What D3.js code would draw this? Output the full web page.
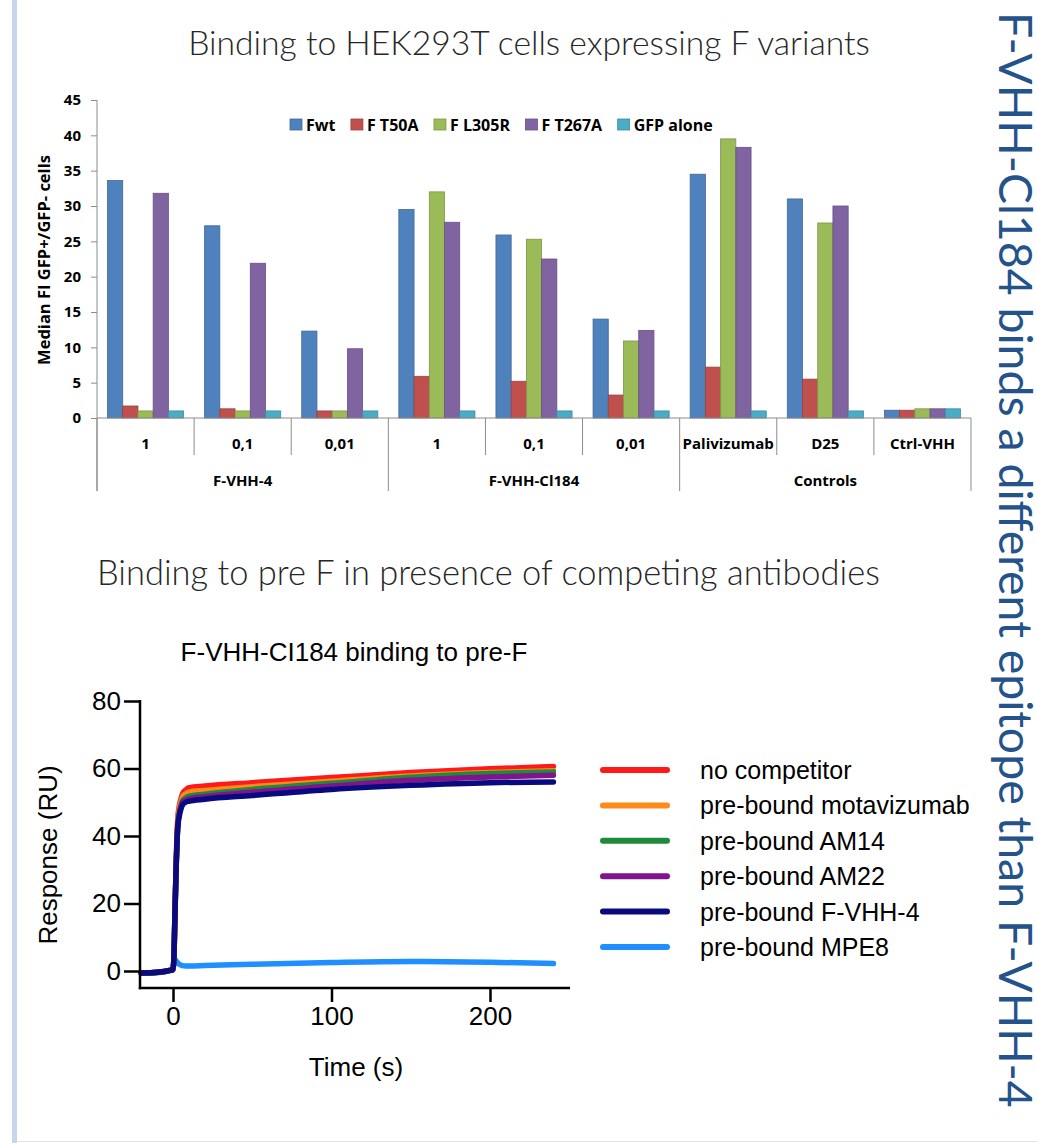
<!DOCTYPE html>
<html>
<head>
<meta charset="utf-8">
<script src="https://cdn.jsdelivr.net/npm/d3@7"></script>
<style>
  body { margin: 0; background: #fff; }
  svg { display: block; }
</style>
</head>
<body>
<div id="slide"></div>
<script>

// ---------- data: bar chart ----------
var categories = ["1", "0,1", "0,01", "1", "0,1", "0,01", "Palivizumab", "D25", "Ctrl-VHH"];
var groups = ["F-VHH-4", "F-VHH-Cl184", "Controls"];
var groupOf = [0, 0, 0, 1, 1, 1, 2, 2, 2];
var variants = ["Fwt", "F T50A", "F L305R", "F T267A", "GFP alone"];
var fwt   = [33.6, 27.2, 12.3, 29.5, 25.9, 14.0, 34.5, 31.0, 1.1];
var t50a  = [1.7, 1.3, 1.0, 5.9, 5.2, 3.25, 7.2, 5.5, 1.1];
var l305r = [1.0, 1.0, 1.0, 32.0, 25.3, 10.9, 39.5, 27.6, 1.3];
var t267a = [31.8, 21.9, 9.8, 27.7, 22.5, 12.4, 38.3, 30.0, 1.3];
var gfp   = [1.0, 1.0, 1.0, 1.0, 1.0, 1.0, 1.0, 1.0, 1.3];
var barTicks = [0, 5, 10, 15, 20, 25, 30, 35, 40, 45];

// ---------- data: sensorgram ----------
var time      = [-20, -10, -2, 0, 0.5, 1, 1.5, 2, 2.5, 3, 4, 5, 6, 8, 10, 20, 50, 100, 150, 200, 240];
var noComp    = [-0.6, -0.4, 0.2, 0.5, 3, 12, 22, 32, 40, 45, 49, 51, 52.5, 53.6, 54.3, 54.8, 55.8, 57.3, 58.8, 59.9, 60.6];
var motaviz   = [-0.6, -0.4, 0.2, 0.5, 3, 12, 22, 31, 39, 44, 48, 50, 51.5, 52.5, 53.0, 53.5, 54.6, 56.2, 57.8, 58.8, 59.3];
var am14      = [-0.7, -0.5, 0.1, 0.4, 3, 12, 22, 31, 38, 43, 47, 49, 50.5, 51.3, 51.8, 52.4, 53.8, 55.6, 57.4, 58.5, 59.0];
var am22      = [-0.6, -0.4, 0.2, 0.5, 3, 12, 22, 31, 38, 43, 46.5, 48.5, 50, 50.6, 51.0, 51.6, 53.0, 54.8, 56.5, 57.5, 58.0];
var fvhh4     = [-0.6, -0.4, 0.2, 0.5, 3, 12, 22, 31, 38, 42.5, 46, 48, 49.2, 50.0, 50.3, 50.9, 52.0, 53.8, 55.0, 55.8, 56.0];
var mpe8      = [-0.6, -0.4, 0.2, 0.5, 2.5, 3.5, 3.2, 3, 2.7, 2.4, 2, 1.8, 1.6, 1.5, 1.5, 1.6, 2.0, 2.5, 2.8, 2.6, 2.2];
var curveNames = ["no competitor", "pre-bound motavizumab", "pre-bound AM14", "pre-bound AM22", "pre-bound F-VHH-4", "pre-bound MPE8"];
var respTicks = [0, 20, 40, 60, 80];
var timeTicks = [0, 100, 200];

var W = 1037, H = 1143;
var svg = d3.select("#slide").append("svg")
    .attr("width", W)
    .attr("height", H);

svg.append("rect").attr("width", W).attr("height", H).attr("fill", "#fff");

// slide decoration: left bar and bottom edge
svg.append("rect").attr("x", 12).attr("y", 0).attr("width", 5).attr("height", H).attr("fill", "#c6d6ec");
svg.append("line").attr("x1", 17).attr("x2", W).attr("y1", H - 1.5).attr("y2", H - 1.5)
    .attr("stroke", "#e4e4e4").attr("stroke-width", 1);

// scale a text's font size so it spans the wanted width
function fitWidth(sel, target) {
  var w = sel.node().getComputedTextLength();
  var fs = parseFloat(sel.attr("font-size"));
  sel.attr("font-size", fs * target / w);
}

// ---------- headings ----------
var t1 = svg.append("text")
    .attr("x", 529).attr("y", 55)
    .attr("text-anchor", "middle")
    .attr("font-family", "Lato, sans-serif").attr("font-weight", 300)
    .attr("font-size", 30).attr("fill", "#262626")
    .text("Binding to HEK293T cells expressing F variants");
fitWidth(t1, 682);

var t2 = svg.append("text")
    .attr("x", 97).attr("y", 585)
    .attr("font-family", "Lato, sans-serif").attr("font-weight", 300)
    .attr("font-size", 30).attr("fill", "#262626")
    .text("Binding to pre F in presence of competing antibodies");
fitWidth(t2, 783);

var side = svg.append("text")
    .attr("transform", "translate(999,12) rotate(90)")
    .attr("font-family", "Lato, sans-serif")
    .attr("font-size", 50).attr("fill", "#24528a")
    .text("F-VHH-Cl184 binds a different epitope than F-VHH-4");
fitWidth(side, 1096);

// ---------- bar chart ----------
var barSeries = [fwt, t50a, l305r, t267a, gfp];
var barColors = ["#4F81BD", "#C0504D", "#9BBB59", "#8064A2", "#4BACC6"];
var gray = "#8c8c8c";
var font1 = "'Open Sans', sans-serif";

var x0 = d3.scaleBand().domain(d3.range(categories.length)).range([97, 971]);
var x1 = d3.scaleBand().domain(d3.range(variants.length)).range([0, x0.bandwidth()]).paddingOuter(0.69);
var yb = d3.scaleLinear().domain([0, 45]).range([418, 100]);

var bars = svg.append("g");
categories.forEach(function (c, i) {
  barSeries.forEach(function (s, j) {
    bars.append("rect")
      .attr("x", x0(i) + x1(j))
      .attr("y", yb(s[i]))
      .attr("width", x1.bandwidth())
      .attr("height", yb(0) - yb(s[i]))
      .attr("fill", barColors[j])
      .attr("stroke", d3.color(barColors[j]).darker(0.6))
      .attr("stroke-width", 0.8);
  });
});

var yAxis = svg.append("g")
    .attr("transform", "translate(97,0)")
    .call(d3.axisLeft(yb).tickValues(barTicks).tickSize(6).tickSizeOuter(0).tickPadding(10));
yAxis.select(".domain").remove();
yAxis.selectAll(".tick line").attr("stroke", gray);
yAxis.selectAll(".tick text")
    .attr("font-family", font1).attr("font-weight", "bold")
    .attr("font-size", 15).attr("fill", "#000");

// axis lines and category separators
svg.append("line").attr("x1", 97).attr("x2", 97).attr("y1", 100).attr("y2", 491).attr("stroke", gray);
svg.append("line").attr("x1", 97).attr("x2", 971).attr("y1", 418).attr("y2", 418).attr("stroke", gray);
d3.range(categories.length + 1).forEach(function (i) {
  var xp = i < categories.length ? x0(i) : x0.range()[1];
  var bottom = (i % 3 === 0) ? 491 : 455;
  svg.append("line").attr("x1", xp).attr("x2", xp).attr("y1", 418).attr("y2", bottom).attr("stroke", gray);
});

svg.append("g").selectAll("text")
  .data(categories)
  .enter().append("text")
    .attr("x", function (d, i) { return x0(i) + x0.bandwidth() / 2; })
    .attr("y", 449)
    .attr("text-anchor", "middle")
    .attr("font-family", font1).attr("font-weight", "bold").attr("font-size", 15)
    .text(function (d) { return d; });

svg.append("g").selectAll("text")
  .data(groups)
  .enter().append("text")
    .attr("x", function (d, g) {
      var idx = d3.range(categories.length).filter(function (i) { return groupOf[i] === g; });
      return (x0(idx[0]) + x0(idx[idx.length - 1]) + x0.bandwidth()) / 2;
    })
    .attr("y", 486)
    .attr("text-anchor", "middle")
    .attr("font-family", font1).attr("font-weight", "bold").attr("font-size", 15)
    .text(function (d) { return d; });

var ytitle = svg.append("text")
    .attr("transform", "translate(50,260) rotate(-90)")
    .attr("text-anchor", "middle")
    .attr("font-family", font1).attr("font-weight", "bold").attr("font-size", 15)
    .text("Median FI GFP+/GFP- cells");
fitWidth(ytitle, 210);

// legend
var lx = 290;
variants.forEach(function (v, j) {
  svg.append("rect")
    .attr("x", lx).attr("y", 119).attr("width", 12).attr("height", 11)
    .attr("fill", barColors[j]).attr("stroke", d3.color(barColors[j]).darker(0.6)).attr("stroke-width", 0.8);
  var t = svg.append("text")
    .attr("x", lx + 16).attr("y", 130.5)
    .attr("font-family", font1).attr("font-weight", "bold").attr("font-size", 16)
    .text(v);
  lx += 16 + t.node().getComputedTextLength() + 15.5;
});

// ---------- sensorgram ----------
var xs = d3.scaleLinear().domain([0, 100]).range([173, 331.5]);
var ys = d3.scaleLinear().domain([0, 80]).range([971, 701]);
var curveData = [noComp, motaviz, am14, am22, fvhh4, mpe8];
var curveColors = ["#ff1a1a", "#ff8a1c", "#1f8a3c", "#80148c", "#0a0a80", "#1f8fff"];
var font2 = "'Liberation Sans', Arial, sans-serif";

svg.append("text")
    .attr("x", 354).attr("y", 661)
    .attr("text-anchor", "middle")
    .attr("font-family", font2).attr("font-size", 26)
    .text("F-VHH-CI184 binding to pre-F");

var line = d3.line()
    .x(function (d) { return xs(d[0]); })
    .y(function (d) { return ys(d[1]); })
    .curve(d3.curveMonotoneX);

// draw MPE8 first so the others lie on top at the baseline
var order = [5, 0, 1, 2, 3, 4];
order.forEach(function (k) {
  svg.append("path")
    .datum(time.map(function (t, i) { return [t, curveData[k][i]]; }))
    .attr("d", line)
    .attr("fill", "none")
    .attr("stroke", curveColors[k])
    .attr("stroke-width", 5.5)
    .attr("stroke-linejoin", "round")
    .attr("stroke-linecap", "round");
});

var yAx = svg.append("g")
    .attr("transform", "translate(140,0)")
    .call(d3.axisLeft(ys).tickValues(respTicks).tickSize(16).tickSizeOuter(0).tickPadding(3));
yAx.select(".domain").remove();
svg.append("line").attr("x1", 140).attr("x2", 140).attr("y1", 700).attr("y2", 989.2)
    .attr("stroke", "#000").attr("stroke-width", 2.5);

var xAx = svg.append("g")
    .attr("transform", "translate(0,988)")
    .call(d3.axisBottom(xs).tickValues(timeTicks).tickSize(14).tickSizeOuter(0).tickPadding(5));
xAx.select(".domain").remove();
svg.append("line").attr("x1", 138.8).attr("x2", 570).attr("y1", 988).attr("y2", 988)
    .attr("stroke", "#000").attr("stroke-width", 2.5);

[yAx, xAx].forEach(function (a) {
  a.selectAll(".tick line").attr("stroke", "#000").attr("stroke-width", 2.5);
  a.selectAll(".tick text").attr("font-family", font2).attr("font-size", 26).attr("fill", "#000");
});

svg.append("text")
    .attr("x", 356).attr("y", 1076)
    .attr("text-anchor", "middle")
    .attr("font-family", font2).attr("font-size", 26)
    .text("Time (s)");

svg.append("text")
    .attr("transform", "translate(57,855) rotate(-90)")
    .attr("text-anchor", "middle")
    .attr("font-family", font2).attr("font-size", 26)
    .text("Response (RU)");

// legend
curveNames.forEach(function (n, k) {
  var ly = 770 + k * 35.4;
  svg.append("line")
    .attr("x1", 603).attr("x2", 667).attr("y1", ly).attr("y2", ly)
    .attr("stroke", curveColors[k]).attr("stroke-width", 6).attr("stroke-linecap", "round");
  svg.append("text")
    .attr("x", 700).attr("y", ly + 9)
    .attr("font-family", font2).attr("font-size", 25)
    .text(n);
});

</script>
</body>
</html>
